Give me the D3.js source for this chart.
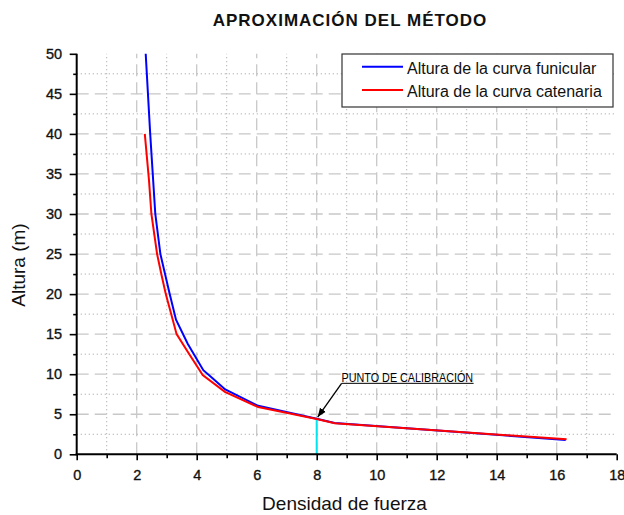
<!DOCTYPE html>
<html>
<head>
<meta charset="utf-8">
<script src="https://cdn.jsdelivr.net/npm/d3@7"></script>
<style>
  body { margin: 0; background: #fff; }
  svg { display: block; font-family: "Liberation Sans", Arial, sans-serif; }
</style>
</head>
<body>
<div id="chart"></div>
<script>
// Data
var funicularX = [2.30, 2.45, 2.62, 2.79, 3.10, 3.31, 3.70, 4.22, 4.50, 4.95, 6.05, 8.00, 8.60, 16.30];
var funicularY = [50.0, 40.0, 30.0, 25.0, 20.0, 16.8, 13.8, 10.5, 9.6, 8.1, 6.05, 4.45, 3.9, 1.80];

var catenariaX = [2.27, 2.41, 2.49, 2.68, 2.82, 2.97, 3.33, 3.70, 4.20, 4.94, 6.05, 8.00, 8.60, 16.33];
var catenariaY = [40.0, 34.2, 30.0, 25.0, 22.5, 20.0, 15.0, 12.8, 9.9, 7.8, 5.9, 4.4, 3.87, 1.87];

var xMajorTicks = [0, 2, 4, 6, 8, 10, 12, 14, 16, 18];
var xMinorTicks = [1, 3, 5, 7, 9, 11, 13, 15, 17];
var yMajorTicks = [0, 5, 10, 15, 20, 25, 30, 35, 40, 45, 50];
var yMinorTicks = [2.5, 7.5, 12.5, 17.5, 22.5, 27.5, 32.5, 37.5, 42.5, 47.5];

var seriesNames = ["Altura de la curva funicular", "Altura de la curva catenaria"];
var calibration = { x: 8, y: 4.4, labelX: 8.83, labelY: 8.86, label: "PUNTO DE CALIBRACIÓN" };

var w = 624;
var h = 515;
var plotLeft = 76.7, plotRight = 616.7, plotTop = 53.8, plotBottom = 454.3;

var svg = d3.select("#chart")
    .append("svg")
    .attr("width", w)
    .attr("height", h);

var x = d3.scaleLinear().domain([0, 18]).range([plotLeft, plotRight]);
var y = d3.scaleLinear().domain([0, 50]).range([plotBottom, plotTop]);

// Grid
var grid = svg.append("g");
xMajorTicks.filter(d => d > 0 && d < 18).forEach(d => {
    grid.append("line")
        .attr("x1", x(d)).attr("x2", x(d))
        .attr("y1", y(0)).attr("y2", y(50))
        .attr("stroke", "#c8c8c8").attr("stroke-width", 1.3)
        .attr("stroke-dasharray", "12,6");
});
xMinorTicks.forEach(d => {
    grid.append("line")
        .attr("x1", x(d)).attr("x2", x(d))
        .attr("y1", y(0)).attr("y2", y(50))
        .attr("stroke", "#b4b4b4").attr("stroke-width", 1)
        .attr("stroke-dasharray", "1.3,2.7");
});
yMajorTicks.filter(d => d > 0 && d < 50).forEach(d => {
    grid.append("line")
        .attr("x1", x(0)).attr("x2", x(18))
        .attr("y1", y(d)).attr("y2", y(d))
        .attr("stroke", "#c8c8c8").attr("stroke-width", 1.3)
        .attr("stroke-dasharray", "12,6");
});
yMinorTicks.forEach(d => {
    grid.append("line")
        .attr("x1", x(0)).attr("x2", x(18))
        .attr("y1", y(d)).attr("y2", y(d))
        .attr("stroke", "#b4b4b4").attr("stroke-width", 1)
        .attr("stroke-dasharray", "1.3,2.7");
});

// Calibration line
svg.append("line")
    .attr("x1", x(calibration.x)).attr("x2", x(calibration.x))
    .attr("y1", y(0)).attr("y2", y(calibration.y))
    .attr("stroke", "#00e5ee").attr("stroke-width", 2);

// Curves
var funicular = funicularX.map((d, i) => [d, funicularY[i]]);
var catenaria = catenariaX.map((d, i) => [d, catenariaY[i]]);
var line = d3.line().x(d => x(d[0])).y(d => y(d[1]));

svg.append("path")
    .datum(funicular)
    .attr("fill", "none")
    .attr("stroke", "#0000ff")
    .attr("stroke-width", 2)
    .attr("d", line);

svg.append("path")
    .datum(catenaria)
    .attr("fill", "none")
    .attr("stroke", "#ff0000")
    .attr("stroke-width", 2)
    .attr("d", line);

// Axes
function styleAxis(g) {
    g.select(".domain").remove();
    g.attr("font-size", 14.5).attr("font-family", "'Liberation Sans', Arial, sans-serif");
    g.selectAll(".tick line").attr("stroke", "#000").attr("stroke-width", 1.6);
    g.selectAll(".tick text")
        .attr("fill", "#111")
        .attr("stroke", "#111")
        .attr("stroke-width", 0.35);
}

svg.append("g")
    .attr("transform", `translate(${plotLeft},0)`)
    .call(d3.axisLeft(y).tickValues(yMinorTicks).tickSize(3.5).tickSizeOuter(0).tickFormat(""))
    .call(styleAxis);
svg.append("g")
    .attr("transform", `translate(${plotLeft},0)`)
    .call(d3.axisLeft(y).tickValues(yMajorTicks).tickSize(7).tickSizeOuter(0).tickPadding(7.5))
    .call(styleAxis);

svg.append("g")
    .attr("transform", `translate(0,${plotBottom})`)
    .call(d3.axisBottom(x).tickValues(xMinorTicks).tickSize(4).tickSizeOuter(0).tickFormat(""))
    .call(styleAxis);
svg.append("g")
    .attr("transform", `translate(0,${plotBottom})`)
    .call(d3.axisBottom(x).tickValues(xMajorTicks).tickSize(6).tickSizeOuter(0).tickPadding(9.6))
    .call(styleAxis);

svg.append("line")
    .attr("x1", plotLeft).attr("x2", plotLeft)
    .attr("y1", plotTop).attr("y2", plotBottom + 1)
    .attr("stroke", "#000").attr("stroke-width", 2);
svg.append("line")
    .attr("x1", plotLeft - 1).attr("x2", plotRight)
    .attr("y1", plotBottom).attr("y2", plotBottom)
    .attr("stroke", "#000").attr("stroke-width", 2);

// Title and axis labels
svg.append("text")
    .attr("x", 350)
    .attr("y", 25.7)
    .attr("text-anchor", "middle")
    .style("font-size", "17px")
    .style("font-weight", "bold")
    .style("letter-spacing", "1px")
    .attr("fill", "#111")
    .text("APROXIMACIÓN DEL MÉTODO");

svg.append("text")
    .attr("x", 344.5)
    .attr("y", 510)
    .attr("text-anchor", "middle")
    .style("font-size", "19px")
    .attr("fill", "#111")
    .text("Densidad de fuerza");

svg.append("text")
    .attr("transform", "translate(25,265) rotate(-90)")
    .attr("text-anchor", "middle")
    .style("font-size", "19px")
    .attr("fill", "#111")
    .text("Altura (m)");

// Calibration annotation
svg.append("defs").append("marker")
    .attr("id", "arrow")
    .attr("viewBox", "0 0 10 10")
    .attr("refX", 10).attr("refY", 5)
    .attr("markerWidth", 9).attr("markerHeight", 9)
    .attr("markerUnits", "userSpaceOnUse")
    .attr("orient", "auto")
    .append("path")
    .attr("d", "M0,1 L10,5 L0,9 Z")
    .attr("fill", "#000");

svg.append("line")
    .attr("x1", x(calibration.labelX)).attr("y1", y(calibration.labelY))
    .attr("x2", x(calibration.x) + 1).attr("y2", y(calibration.y) - 2)
    .attr("stroke", "#000").attr("stroke-width", 1.3)
    .attr("marker-end", "url(#arrow)");

svg.append("text")
    .attr("x", x(calibration.labelX))
    .attr("y", y(calibration.labelY) - 1.8)
    .attr("textLength", 131.5)
    .attr("lengthAdjust", "spacingAndGlyphs")
    .style("font-family", "'Liberation Sans Narrow', 'Liberation Sans', Arial, sans-serif")
    .style("font-size", "13px")
    .attr("fill", "#000")
    .text(calibration.label);

svg.append("line")
    .attr("x1", x(calibration.labelX)).attr("x2", x(calibration.labelX) + 132)
    .attr("y1", y(calibration.labelY)).attr("y2", y(calibration.labelY))
    .attr("stroke", "#000").attr("stroke-width", 1);

// Legend
var legend = svg.append("g");
legend.append("rect")
    .attr("x", 342).attr("y", 54)
    .attr("width", 271).attr("height", 53)
    .attr("fill", "#fff")
    .attr("stroke", "#333").attr("stroke-width", 1.2);

var legendColors = ["#0000ff", "#ff0000"];
seriesNames.forEach((name, i) => {
    var ly = 66.7 + i * 23.3;
    legend.append("line")
        .attr("x1", 362).attr("x2", 403)
        .attr("y1", ly).attr("y2", ly)
        .attr("stroke", legendColors[i]).attr("stroke-width", 2);
    legend.append("text")
        .attr("x", 407)
        .attr("y", ly + 7.3)
        .style("font-size", "16px")
        .attr("fill", "#111")
        .text(name);
});
</script>
</body>
</html>
